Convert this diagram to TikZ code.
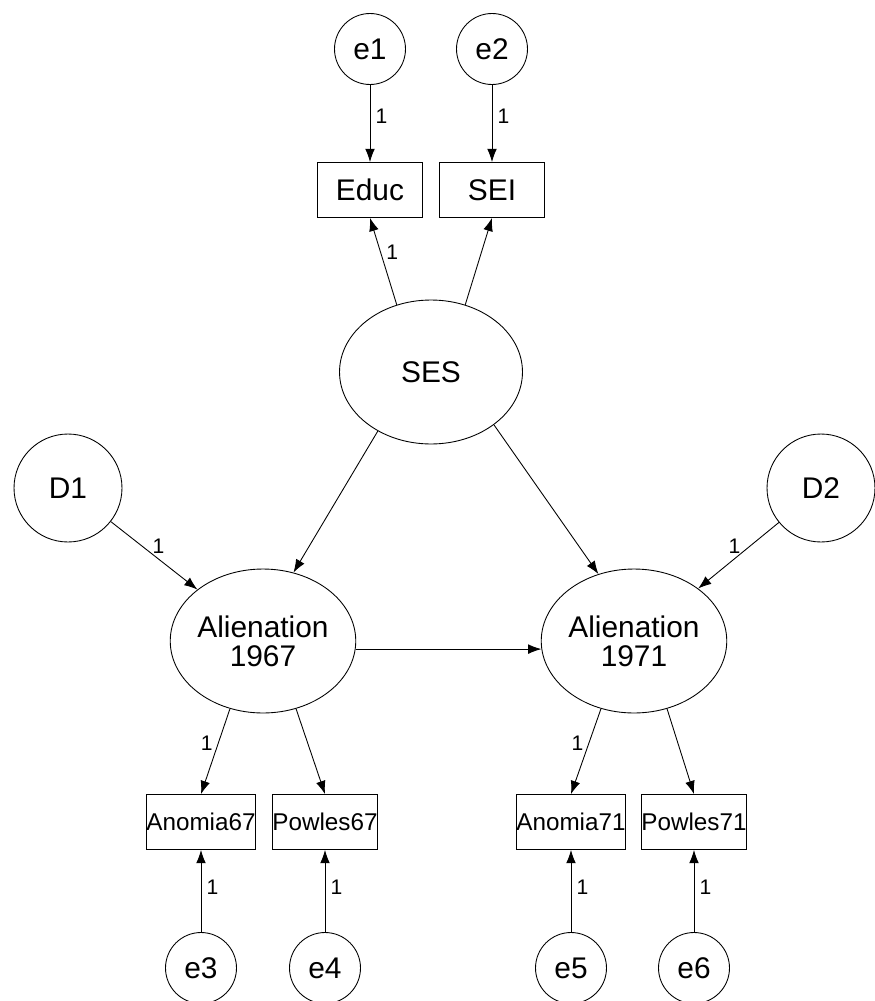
\documentclass[tikz,border=0pt]{standalone}
\usepackage{fontspec}
\setmainfont{Liberation Sans}
\usetikzlibrary{arrows.meta,shapes.geometric}

\tikzset{
	obsbox/.style={draw, rectangle, minimum width=2.1cm, minimum height=1.1cm, inner sep=0pt, font=\fontsize{17}{19}\selectfont},
	obssmall/.style={obsbox, font=\fontsize{13.8}{15}\selectfont},
	latent/.style={draw, ellipse, minimum width=3.66cm, minimum height=2.88cm, inner sep=0pt, align=center, font=\fontsize{17}{16.5}\selectfont},
	errc/.style={draw, circle, minimum size=1.42cm, inner sep=0pt, font=\fontsize{17}{19}\selectfont},
	distc/.style={draw, circle, minimum size=2.16cm, inner sep=0pt, font=\fontsize{17}{19}\selectfont},
	wt/.style={font=\fontsize{12}{14}\selectfont, inner sep=3pt}
}

\begin{document}
\begin{tikzpicture}[x=0.02cm, y=-0.02cm, >={Latex[length=7.5pt,width=5.5pt]}, line width=0.5pt]
	\useasboundingbox (0,0) rectangle (875,1001);
	% error terms, top
	\node [errc] (e1) at (370,49) {e1};
	\node [errc] (e2) at (492,49) {e2};
	\node [obsbox] (educ) at (370,190) {Educ};
	\node [obsbox] (sei) at (492,190) {SEI};
	% latent variables
	\node [latent] (ses) at (431,372) {SES};
	\node [distc] (d1) at (68,488) {D1};
	\node [distc] (d2) at (821,488) {D2};
	\node [latent] (al67) at (263,641) {Alienation\\1967};
	\node [latent] (al71) at (634,641) {Alienation\\1971};
	% indicators, bottom
	\node [obssmall] (anomia67) at (201,822) {Anomia67};
	\node [obssmall] (powles67) at (325,822) {Powles67};
	\node [obssmall] (anomia71) at (571,822) {Anomia71};
	\node [obssmall] (powles71) at (694,822) {Powles71};
	\node [errc] (e3) at (201,968) {e3};
	\node [errc] (e4) at (325,968) {e4};
	\node [errc] (e5) at (571,968) {e5};
	\node [errc] (e6) at (694,968) {e6};

	\draw [->] (e1) -- (educ) node [pos=0.4, right, wt] {1};
	\draw [->] (e2) -- (sei) node [pos=0.4, right, wt] {1};
	\draw [->] (ses.117) -- (educ.south) node [pos=0.6, right, wt] {1};
	\draw [->] (ses.63) -- (sei.south);
	\draw [->] (ses.228) -- (al67.66);
	\draw [->] (ses.320) -- (al71.118);
	\draw [->] (d1) -- (al67) node [pos=0.55, above, wt] {1};
	\draw [->] (d2) -- (al71) node [pos=0.55, above, wt] {1};
	\draw [->] (al67.-5) -- (al71.185);
	\draw [->] (al67.244) -- (anomia67.north) node [pos=0.4, left, wt] {1};
	\draw [->] (al67.296) -- (powles67.north);
	\draw [->] (al71.244) -- (anomia71.north) node [pos=0.4, left, wt] {1};
	\draw [->] (al71.296) -- (powles71.north);
	\draw [->] (e3) -- (anomia67) node [pos=0.55, right, wt] {1};
	\draw [->] (e4) -- (powles67) node [pos=0.55, right, wt] {1};
	\draw [->] (e5) -- (anomia71) node [pos=0.55, right, wt] {1};
	\draw [->] (e6) -- (powles71) node [pos=0.55, right, wt] {1};
\end{tikzpicture}
\end{document}
